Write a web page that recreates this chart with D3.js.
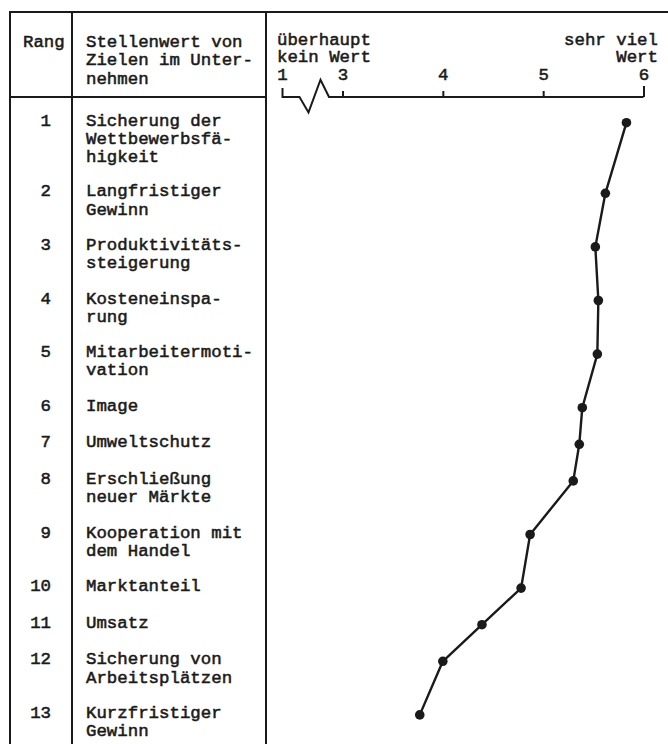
<!DOCTYPE html>
<html>
<head>
<meta charset="utf-8">
<script src="https://cdn.jsdelivr.net/npm/d3@7"></script>
<style>
  html, body { margin: 0; padding: 0; background: #fff; }
  svg text { font-family: "Liberation Mono", "DejaVu Sans Mono", monospace; font-size: 17.4px;
             fill: #1a1a1a; stroke: #1a1a1a; stroke-width: 0.55px; }
</style>
</head>
<body>
<svg width="668" height="744"></svg>
<script>
// data
var ranks = [1, 2, 3, 4, 5, 6, 7, 8, 9, 10, 11, 12, 13];
var goals = [
    ["Sicherung der", "Wettbewerbsfä-", "higkeit"],
    ["Langfristiger", "Gewinn"],
    ["Produktivitäts-", "steigerung"],
    ["Kosteneinspa-", "rung"],
    ["Mitarbeitermoti-", "vation"],
    ["Image"],
    ["Umweltschutz"],
    ["Erschließung", "neuer Märkte"],
    ["Kooperation mit", "dem Handel"],
    ["Marktanteil"],
    ["Umsatz"],
    ["Sicherung von", "Arbeitsplätzen"],
    ["Kurzfristiger", "Gewinn"]
];
var ratings = [5.83, 5.62, 5.52, 5.55, 5.54, 5.39, 5.36, 5.30, 4.87, 4.78, 4.39, 4.00, 3.77];
var axisTicks = [3, 4, 5, 6];
var axisStart = 1;
var headRang = "Rang";
var headGoal = ["Stellenwert von", "Zielen im Unter-", "nehmen"];
var scaleLow = ["überhaupt", "kein Wert"];
var scaleHigh = ["sehr viel", "Wert"];

var ink = "#1a1a1a",
    svg = d3.select("svg"),
    W = 668, H = 744,
    colL = 10, colA = 72, colB = 266,
    topY = 12, headY = 97,
    lineH = 18.4,
    firstBase = 125.7, rowGap = 19.6, rowLine = 17;

var x = d3.scaleLinear().domain([3, 6]).range([342.5, 643.5]);
var xStart = x(3) - 60;

// row baselines from number of text lines
var rowY = [];
var yy = firstBase;
goals.forEach(function(g, i) {
    rowY.push(yy);
    yy += rowGap + rowLine * g.length;
});

// frame
var frame = svg.append("g").attr("stroke", ink).attr("stroke-width", 2).attr("fill", "none");
frame.append("line").attr("x1", colL - 1).attr("x2", W).attr("y1", topY).attr("y2", topY);
frame.append("line").attr("x1", colL).attr("x2", colL).attr("y1", topY).attr("y2", H);
frame.append("line").attr("x1", colA).attr("x2", colA).attr("y1", topY).attr("y2", H);
frame.append("line").attr("x1", colB).attr("x2", colB).attr("y1", topY).attr("y2", H);
frame.append("line").attr("x1", colL).attr("x2", colB).attr("y1", headY).attr("y2", headY);

// header text
svg.append("text").attr("x", 23).attr("y", 46.7).text(headRang);
svg.append("g").selectAll("text").data(headGoal).enter().append("text")
    .attr("x", 86).attr("y", function(d, i) { return 46.7 + i * lineH; })
    .text(function(d) { return d; });
svg.append("g").selectAll("text").data(scaleLow).enter().append("text")
    .attr("x", 277).attr("y", function(d, i) { return 44.8 + i * 17.4; })
    .text(function(d) { return d; });
svg.append("g").selectAll("text").data(scaleHigh).enter().append("text")
    .attr("x", 658).attr("text-anchor", "end").attr("y", function(d, i) { return 44.8 + i * 17.4; })
    .text(function(d) { return d; });

// axis
var axisG = svg.append("g").attr("transform", "translate(0," + headY + ")");
axisG.call(d3.axisTop(x).tickValues(axisTicks).tickSize(6).tickPadding(11.5).tickFormat(d3.format("d")));
axisG.select(".domain").remove();
axisG.selectAll(".tick line").attr("stroke", ink).attr("stroke-width", 2)
    .filter(function(d) { return d === 6; }).attr("y2", -11);
axisG.selectAll(".tick text").attr("font-family", null).attr("font-size", null).attr("fill", ink);

// baseline with break between 1 and 3
var brk = d3.line();
axisG.append("path")
    .attr("d", brk([[xStart, -9], [xStart, 0], [xStart + 17, 0], [xStart + 26, 15.4],
                    [xStart + 38, -17.3], [xStart + 46.5, 0], [x(6), 0]]))
    .attr("fill", "none").attr("stroke", ink).attr("stroke-width", 2)
    .attr("stroke-linejoin", "miter");
axisG.append("text").attr("x", xStart).attr("y", -17.5).attr("text-anchor", "middle").text(axisStart);

// rows
var rows = svg.append("g").selectAll("g").data(goals).enter().append("g")
    .attr("transform", function(d, i) { return "translate(0," + rowY[i] + ")"; });
rows.append("text").attr("x", 51).attr("text-anchor", "end")
    .text(function(d, i) { return ranks[i]; });
rows.selectAll("text.goal").data(function(d) { return d; }).enter().append("text")
    .attr("class", "goal")
    .attr("x", 86).attr("y", function(d, i) { return i * lineH; })
    .text(function(d) { return d; });

// profile line
var pts = ratings.map(function(v, i) { return [x(v), rowY[i] - 3]; });
svg.append("path")
    .attr("d", d3.line()(pts))
    .attr("fill", "none").attr("stroke", ink).attr("stroke-width", 2.4)
    .attr("stroke-linejoin", "round");
svg.append("g").selectAll("circle").data(pts).enter().append("circle")
    .attr("cx", function(d) { return d[0]; })
    .attr("cy", function(d) { return d[1]; })
    .attr("r", 4.8).attr("fill", ink);
</script>
</body>
</html>
